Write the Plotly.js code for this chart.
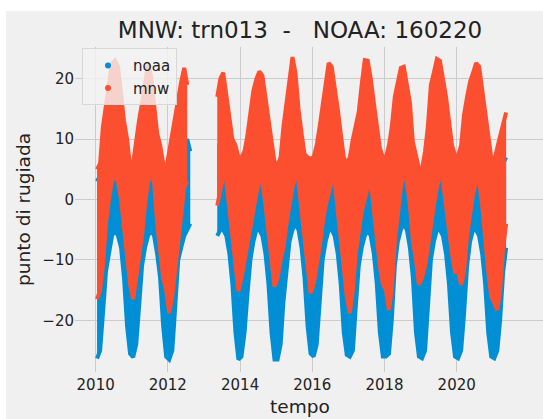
<!DOCTYPE html>
<html>
<head>
<meta charset="utf-8">
<script src="https://cdn.plot.ly/plotly-3.0.1.min.js"></script>
<style>
  html, body { margin: 0; padding: 0; background: #ffffff; width: 543px; height: 419px; overflow: hidden; }
  #chart { position: absolute; left: 6px; top: 11px; width: 537px; height: 408px; }
</style>
</head>
<body>
<div id="chart"></div>
<script>
// Monthly envelopes (min / max of the hourly scatter), Jan 2010 .. May 2021
const startYear = 2010;

const mnwHigh = [
  5, 6, 12, 16, 19, 22.5, 23, 22, 17.5, 13, 10, 5.5,          // 2010
  6, 10, 13, 16, 19, 22.3, 20.5, 15, 11, 9, 6, 5,             // 2011
  8, 11.5, 14.5, 17, 19.5, 21.8, 19, null, null, null, null, null, // 2012
  null, null, null, null, 17, 20, 21, 17.5, 13, 10, 9, 7,     // 2013
  7, 8, 10.5, 15, 18, 20, 21.2, 20.5, 17, 13, 9, 6.2,         // 2014
  5.7, 7, 12, 16, 20, 23.6, 21, 15, 11, 7.5, 7, 6.8,          // 2015
  7, 9, 12, 16, 19.5, 22.6, 22, 19, 15, 11, 7, 6,             // 2016
  7, 10, 12, 14.5, 19, 23.1, 23, 20, 16, 12, 8.5, 7,          // 2017
  7, 9, 12, 17, 19.5, 21.8, 22, 19, 16, 9.5, 7, 5.2,          // 2018
  5, 8, 12, 19, 21, 23.3, 23, 20, 17, 13, 9, 7.3,             // 2019
  7.3, 9, 14, 17, 19.5, 21, 22.6, 22, 18, 14.5, 10, 7,        // 2020
  6.5, 9, 10.5, 12.5, 14.4                                    // 2021
];

const mnwLow = [
  -16.5, -15, -11, -4, 0, 3, 4, 3, 0, -5, -10, -14,           // 2010
  -16.5, -13, -10, -6, -1, 3, 4, 3, -4, -9, -13, -15,         // 2011
  -18.8, -16, -12, -7, -3, 2, 3, null, null, null, null, null, // 2012
  null, null, null, null, -1, 2, 4, 3, -2, -7, -11, -15.2,    // 2013
  -13, -10, -7, -4, -2, 1, 3, 3, -1, -6, -10, -14.4,          // 2014
  -13, -10, -8, -4, -1, 2, 4, 3, -2, -7, -11, -15.5,          // 2015
  -14, -11, -8, -4, -1, 1, 3, 3, -2, -7, -11, -16,            // 2016
  -18.8, -15, -9, -5, -2, 0, 2, 3, -2, -7, -11, -14,          // 2017
  -15, -18.3, -15, -7, -2, 2, 4, 3, -1, -7, -10, -14.1,       // 2018
  -13, -11, -8, -4, -1, 2, 4, 3, -1, -6, -9, -12,             // 2019
  -12, -14.1, -12, -6, -2, 1, 3, 3, -1, -7, -12, -16,         // 2020
  -17, -18.3, -15, -8, -4                                     // 2021
];

const noaaHigh = [
  3, 4, 6, 7, 8, 9, 10, 10, 8, 6, 4, 3,                       // 2010
  3, 4, 6, 7, 8, 9, 10, 9, 8, 6, 4, 3,                        // 2011
  3, 4, 6, 7, 8, 9, 10, 8, null, null, null, null,            // 2012
  null, null, null, null, 9, 9, 10, 10, 8, 6, 4, 3,           // 2013
  3, 4, 6, 7, 8, 9, 10, 10, 8, 6, 4, 3,                       // 2014
  3, 4, 6, 7, 8, 9, 9, 9, 8, 6, 4, 3,                         // 2015
  3, 4, 6, 7, 8, 9, 10, 10, 8, 6, 4, 3,                       // 2016
  3, 4, 6, 7, 8, 9, 10, 10, 8, 6, 4, 3,                       // 2017
  3, 4, 6, 7, 8, 9, 10, 10, 8, 6, 4, 3,                       // 2018
  3, 4, 6, 7, 8, 9, 10, 10, 8, 6, 4, 3,                       // 2019
  3, 4, 6, 7, 8, 9, 10, 10, 8, 6, 4, 3,                       // 2020
  3, 4, 5, 6, 7                                               // 2021
];

const noaaLow = [
  -26.3, -25, -19, -12, -9, -6, -5, -6, -8, -13, -21, -25.5,  // 2010
  -26.1, -24, -18, -11, -8, -6, -5, -6, -9, -13, -21, -26,    // 2011
  -26.5, -25, -18, -10, -8, -6, -5, -4, null, null, null, null, // 2012
  null, null, null, null, -6, -5, -5, -6, -9, -14, -22, -26.5, // 2013
  -26, -22, -16, -10, -7, -5, -5, -6, -9, -14, -22, -26.5,    // 2014
  -26.5, -24, -17, -11, -7, -5, -4, -5, -8, -13, -21, -25.5,  // 2015
  -26, -24, -17, -10, -7, -5, -5, -6, -9, -14, -22, -25.7,    // 2016
  -26, -25, -18, -11, -8, -6, -5, -6, -9, -14, -22, -26,      // 2017
  -26, -25.5, -20, -11, -7, -5, -4, -5, -8, -13, -22, -26,    // 2018
  -26.3, -25, -18, -10, -7, -5, -5, -6, -9, -14, -22, -26,    // 2019
  -26.3, -25, -19, -11, -7, -5, -5, -6, -9, -14, -22, -26,    // 2020
  -26.3, -25, -20, -12, -8                                    // 2021
];

const seriesNames = ['noaa', 'mnw'];
const seriesColors = ['#008fd5', '#fc4f30'];
const xTickLabels = ['2010', '2012', '2014', '2016', '2018', '2020'];
const yTickValues = [-20, -10, 0, 10, 20];

// month axis (mid-month dates)
const months = mnwHigh.map((_, i) => {
  const y = startYear + Math.floor(i / 12);
  const m = (i % 12) + 1;
  return y + '-' + String(m).padStart(2, '0') + '-15';
});

function runs(lo, hi) {
  const out = [];
  let s = -1;
  for (let i = 0; i <= lo.length; i++) {
    const ok = i < lo.length && lo[i] !== null && hi[i] !== null;
    if (ok && s < 0) s = i;
    if (!ok && s >= 0) { out.push([s, i - 1]); s = -1; }
  }
  return out;
}

const traces = [];
function addBand(lo, hi, color) {
  runs(lo, hi).forEach(([a, b]) => {
    const xs = months.slice(a, b + 1);
    traces.push({
      type: 'scatter', mode: 'lines', x: xs, y: lo.slice(a, b + 1),
      line: { color: color, width: 4 }, showlegend: false, hoverinfo: 'skip'
    });
    traces.push({
      type: 'scatter', mode: 'lines', x: xs, y: hi.slice(a, b + 1),
      line: { color: color, width: 4 }, fill: 'tonexty', fillcolor: color,
      showlegend: false, hoverinfo: 'skip'
    });
  });
}
addBand(noaaLow, noaaHigh, seriesColors[0]);
addBand(mnwLow, mnwHigh, seriesColors[1]);

seriesNames.forEach((n, k) => {
  traces.push({
    type: 'scatter', mode: 'markers', x: [null], y: [null], name: n,
    marker: { color: seriesColors[k], size: 6 }, showlegend: true
  });
});

// plot area in the div: left 69, right 537 (0 margin), top 36, bottom 361
const layout = {
  width: 537, height: 408,
  paper_bgcolor: '#f0f0f0', plot_bgcolor: '#f0f0f0',
  margin: { l: 69, r: 0, t: 36, b: 47, pad: 0 },
  font: { family: 'DejaVu Sans', size: 15, color: '#222222' },
  title: {
    text: 'MNW: trn013\u00a0\u00a0-\u00a0\u00a0\u00a0NOAA: 160220',
    font: { size: 23, color: '#222222' },
    x: (300 - 6) / 537, xref: 'container', xanchor: 'center',
    y: 1 - 18.5 / 408, yref: 'container', yanchor: 'middle'
  },
  xaxis: {
    type: 'date',
    range: ['2009-06-06', '2022-05-23'],
    tickvals: xTickLabels.map(t => t + '-01-01'),
    ticktext: xTickLabels,
    ticks: '', showline: false, zeroline: false,
    gridcolor: '#cbcbcb', gridwidth: 1,
    tickfont: { size: 15 },
    ticklabelstandoff: 2
  },
  yaxis: {
    range: [-28.55, 25.26],
    tickvals: yTickValues,
    ticks: '', showline: false, zeroline: false,
    gridcolor: '#cbcbcb', gridwidth: 1,
    tickfont: { size: 15 },
    title: { text: 'punto di rugiada', font: { size: 18.5 }, standoff: 6 }
  },
  annotations: [{
    text: 'tempo', showarrow: false,
    xref: 'paper', x: (300 - 75) / (543 - 75), xanchor: 'center',
    yref: 'paper', y: -(395.7 - 361) / 325, yanchor: 'middle',
    font: { size: 18.5, color: '#222222' }
  }],
  legend: {
    x: (82 - 75) / (543 - 75), y: 0.996, xanchor: 'left', yanchor: 'top',
    traceorder: 'normal',
    bgcolor: 'rgba(243,243,243,0.8)', bordercolor: '#d8d8d8', borderwidth: 1,
    font: { size: 15 }, itemwidth: 40
  },
  showlegend: true
};

Plotly.newPlot('chart', traces, layout, { staticPlot: true, displayModeBar: false });
</script>
</body>
</html>
